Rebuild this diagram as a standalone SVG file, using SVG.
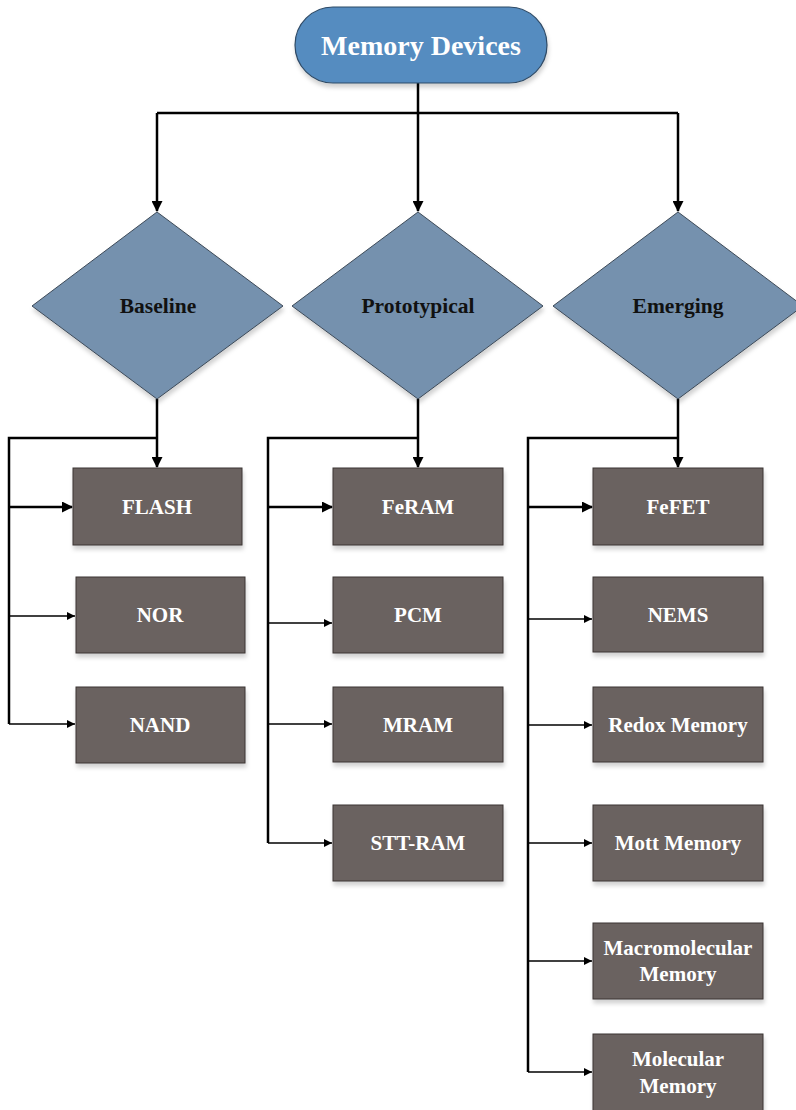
<svg xmlns="http://www.w3.org/2000/svg" width="796" height="1110" viewBox="0 0 796 1110">
<defs>
<marker id="ah" markerWidth="11" markerHeight="11" refX="10" refY="5.5" orient="auto" markerUnits="userSpaceOnUse"><path d="M0,0 L11,5.5 L0,11 Z" fill="#000"/></marker>
<marker id="ahs" markerWidth="8" markerHeight="8" refX="8" refY="4" orient="auto" markerUnits="userSpaceOnUse"><path d="M0,0 L8,4 L0,8 Z" fill="#000"/></marker>
<filter id="sh" x="-10%" y="-10%" width="130%" height="140%"><feDropShadow dx="1" dy="4" stdDeviation="2" flood-color="#000" flood-opacity="0.18"/></filter>
</defs>
<style>
.box{fill:#6b6260;stroke:#3a3433;stroke-width:1;filter:url(#sh)}
.dia{fill:#7591ae;stroke:#3d4a58;stroke-width:1;filter:url(#sh)}
.bt{font-family:"Liberation Serif","Times New Roman",serif;font-weight:bold;font-size:21px;fill:#fff;text-anchor:middle}
.dt{font-family:"Liberation Serif","Times New Roman",serif;font-weight:bold;font-size:21.5px;fill:#111;text-anchor:middle}
.thick{fill:none;stroke:#000;stroke-width:2.5}
.thin{fill:none;stroke:#000;stroke-width:1.5}
</style>
<rect width="796" height="1110" fill="#fff"/>
<g id="connectors">
<path class="thick" d="M418,83 V113"/>
<path class="thick" d="M157,113 H678"/>
<path class="thick" d="M157,113 V211" marker-end="url(#ah)"/>
<path class="thick" d="M418,113 V211" marker-end="url(#ah)"/>
<path class="thick" d="M678,113 V211" marker-end="url(#ah)"/>
<path class="thick" d="M157,399 V467" marker-end="url(#ah)"/>
<path class="thick" d="M157,438 H9 V724"/>
<path class="thick" d="M9,507 H72" marker-end="url(#ah)"/>
<path class="thin" d="M9,616 H75" marker-end="url(#ahs)"/>
<path class="thin" d="M9,724 H75" marker-end="url(#ahs)"/>
<path class="thick" d="M418,399 V467" marker-end="url(#ah)"/>
<path class="thick" d="M418,438 H268 V843"/>
<path class="thick" d="M268,507 H332" marker-end="url(#ah)"/>
<path class="thin" d="M268,623 H332" marker-end="url(#ahs)"/>
<path class="thin" d="M268,724 H332" marker-end="url(#ahs)"/>
<path class="thin" d="M268,843 H332" marker-end="url(#ahs)"/>
<path class="thick" d="M678,399 V467" marker-end="url(#ah)"/>
<path class="thick" d="M678,438 H528 V1072"/>
<path class="thick" d="M528,507 H592" marker-end="url(#ah)"/>
<path class="thin" d="M528,619 H592" marker-end="url(#ahs)"/>
<path class="thin" d="M528,725 H592" marker-end="url(#ahs)"/>
<path class="thin" d="M528,843 H592" marker-end="url(#ahs)"/>
<path class="thin" d="M528,961 H592" marker-end="url(#ahs)"/>
<path class="thin" d="M528,1072 H592" marker-end="url(#ahs)"/>
</g>
<g id="memory-devices">
<rect x="295" y="7" width="252" height="76" rx="38" fill="#548cc0" stroke="#2e4a66" stroke-width="1.2" filter="url(#sh)"/>
<text x="421" y="55" font-family="'Liberation Serif','Times New Roman',serif" font-weight="bold" font-size="28" fill="#fff" text-anchor="middle">Memory Devices</text>
</g>
<g id="baseline"><path class="dia" d="M157,212 L283,306 L157,399 L32,306 Z"/><text class="dt" x="158" y="313">Baseline</text></g>
<g id="prototypical"><path class="dia" d="M418,212 L543,306 L418,399 L292,306 Z"/><text class="dt" x="418" y="313">Prototypical</text></g>
<g id="emerging"><path class="dia" d="M678,212 L803,306 L678,399 L553,306 Z"/><text class="dt" x="678" y="313">Emerging</text></g>
<g id="flash"><rect class="box" x="73" y="468" width="169" height="77"/><text class="bt" x="157" y="514">FLASH</text></g>
<g id="nor"><rect class="box" x="76" y="577" width="169" height="76"/><text class="bt" x="160" y="622">NOR</text></g>
<g id="nand"><rect class="box" x="76" y="687" width="169" height="76"/><text class="bt" x="160" y="732">NAND</text></g>
<g id="feram"><rect class="box" x="333" y="468" width="170" height="77"/><text class="bt" x="418" y="514">FeRAM</text></g>
<g id="pcm"><rect class="box" x="333" y="577" width="170" height="76"/><text class="bt" x="418" y="622">PCM</text></g>
<g id="mram"><rect class="box" x="333" y="687" width="170" height="75"/><text class="bt" x="418" y="732">MRAM</text></g>
<g id="stt-ram"><rect class="box" x="333" y="805" width="170" height="76"/><text class="bt" x="418" y="850">STT-RAM</text></g>
<g id="fefet"><rect class="box" x="593" y="468" width="170" height="77"/><text class="bt" x="678" y="514">FeFET</text></g>
<g id="nems"><rect class="box" x="593" y="577" width="170" height="75"/><text class="bt" x="678" y="622">NEMS</text></g>
<g id="redox"><rect class="box" x="593" y="687" width="170" height="75"/><text class="bt" x="678" y="732">Redox Memory</text></g>
<g id="mott"><rect class="box" x="593" y="805" width="170" height="76"/><text class="bt" x="678" y="850">Mott Memory</text></g>
<g id="macromolecular"><rect class="box" x="593" y="923" width="170" height="76"/><text class="bt" x="678" y="955">Macromolecular</text><text class="bt" x="678" y="981">Memory</text></g>
<g id="molecular"><rect class="box" x="593" y="1034" width="170" height="78"/><text class="bt" x="678" y="1066">Molecular</text><text class="bt" x="678" y="1093">Memory</text></g>
</svg>
